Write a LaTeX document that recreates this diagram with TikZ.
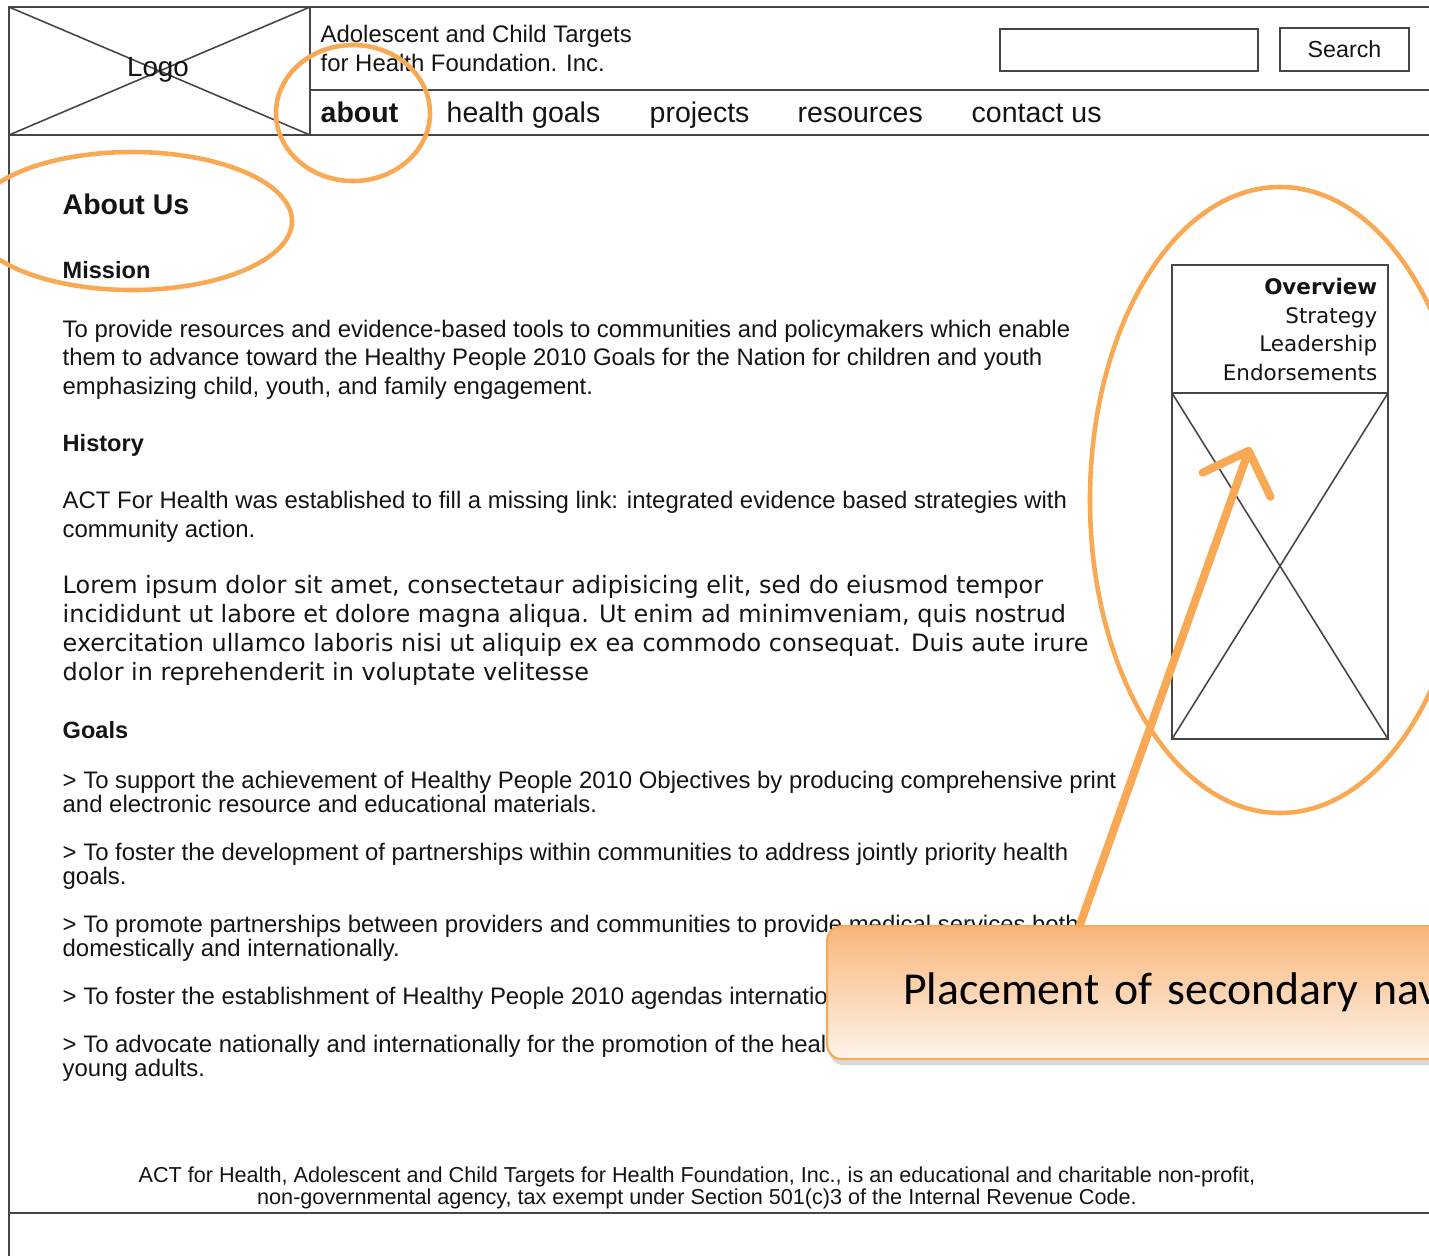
\documentclass[tikz,border=0pt]{standalone}
\usepackage{fontspec}
\setmainfont{Liberation Sans}
\newfontfamily\verdana{DejaVu Sans}
\newfontfamily\calibri{Carlito}
\usepackage{tikz}
\usetikzlibrary{arrows.meta,shadows}
\pgfdeclarelayer{front}
\pgfsetlayers{main,front}

\begin{document}
\begin{tikzpicture}[x=0.01cm,y=-0.01cm]

	\definecolor{wire}{RGB}{70,70,70}
	\definecolor{ink}{RGB}{20,20,20}
	\definecolor{hiorange}{RGB}{249,168,84}
	\definecolor{notetop}{RGB}{249,182,122}
	\definecolor{notebot}{RGB}{254,244,235}

	\useasboundingbox (0,0) rectangle (1429,1256);
	\clip (0,0) rectangle (1429,1256);

	\tikzstyle{frame} = [draw=wire,line width=0.7pt]
	\tikzstyle{cross} = [draw=wire,line width=0.45pt]
	\tikzset{txt/.style = {inner sep=0pt,text=ink,anchor=base west,align=left}}

	% page frame and header
	\draw[frame] (1429,7) -- (9,7) -- (9,1256);
	\draw[frame] (310,7) -- (310,135);
	\draw[frame] (310,90) -- (1429,90);
	\draw[frame] (9,135) -- (1429,135);
	\draw[frame] (9,1213) -- (1429,1213);
	\draw[cross] (9,7) -- (310,135);
	\draw[cross] (9,135) -- (310,7);
	\node[txt,anchor=center,font=\fontsize{7.9}{9}\selectfont] (logo) at (158,70) {Logo};

	\node[txt,font=\fontsize{6.8}{8.2}\selectfont] (org) at (320,71) {Adolescent and Child Targets\\for Health Foundation. Inc.};
	\draw[frame,line width=0.5pt] (1000,29) rectangle (1258,71);
	\node[draw=wire,line width=0.5pt,minimum width=1.29cm,minimum height=0.43cm,inner sep=0pt,
	      font=\fontsize{6.6}{8}\selectfont,text=ink] (search) at (1344.5,49.5) {Search};

	% main navigation
	\tikzset{navitem/.style = {txt,font=\fontsize{8.1}{9}\selectfont}}
	\node[navitem,font=\fontsize{8.1}{9}\selectfont\bfseries] (about) at (320,122) {about};
	\node[navitem] (goals) at (446,122) {health goals};
	\node[navitem] (projects) at (649,122) {projects};
	\node[navitem] (resources) at (797,122) {resources};
	\node[navitem] (contact) at (971,122) {contact us};

	% page content (multi-line nodes sit on their last line)
	\tikzset{head/.style = {txt,font=\fontsize{6.7}{8}\selectfont\bfseries}}
	\tikzset{body/.style = {txt,font=\fontsize{6.8}{8.1}\selectfont}}
	\tikzset{item/.style = {txt,font=\fontsize{6.8}{6.8}\selectfont}}
	\node[txt,font=\fontsize{8.1}{9}\selectfont\bfseries] (aboutus) at (62,214) {About Us};
	\node[head] (mission) at (62,278) {Mission};
	\node[body] (missiontxt) at (62,394) {To provide resources and evidence-based tools to communities and policymakers which enable\\them to advance toward the Healthy People 2010 Goals for the Nation for children and youth\\emphasizing child, youth, and family engagement.};
	\node[head] (history) at (62,451) {History};
	\node[body] (historytxt) at (62,537) {ACT For Health was established to fill a missing link: integrated evidence based strategies with\\community action.};
	\node[txt,font=\verdana\fontsize{6.8}{8.2}\selectfont] (lorem) at (62,680) {Lorem ipsum dolor sit amet, consectetaur adipisicing elit, sed do eiusmod tempor\\incididunt ut labore et dolore magna aliqua. Ut enim ad minimveniam, quis nostrud\\exercitation ullamco laboris nisi ut aliquip ex ea commodo consequat. Duis aute irure\\dolor in reprehenderit in voluptate velitesse};
	\node[head] (goalshead) at (62,738) {Goals};
	\node[item] (goal1) at (62,812) {> To support the achievement of Healthy People 2010 Objectives by producing comprehensive print\\and electronic resource and educational materials.};
	\node[item] (goal2) at (62,884) {> To foster the development of partnerships within communities to address jointly priority health\\goals.};
	\node[item] (goal3) at (62,956) {> To promote partnerships between providers and communities to provide medical services both\\domestically and internationally.};
	\node[item] (goal4) at (62,1004) {> To foster the establishment of Healthy People 2010 agendas internationally.};
	\node[item] (goal5) at (62,1076) {> To advocate nationally and internationally for the promotion of the health\\young adults.};

	\node[txt,anchor=base,align=center,font=\fontsize{6.15}{6}\selectfont] (footer) at (697,1204) {ACT for Health, Adolescent and Child Targets for Health Foundation, Inc., is an educational and charitable non-profit,\\non-governmental agency, tax exempt under Section 501(c)3 of the Internal Revenue Code.};

	% secondary navigation
	\draw[frame,line width=0.5pt] (1172,265) rectangle (1388,739);
	\draw[frame,line width=0.5pt] (1172,393) -- (1388,393);
	\draw[cross] (1172,393) -- (1388,739);
	\draw[cross] (1172,739) -- (1388,393);
	\node[txt,anchor=base east,align=right,font=\verdana\fontsize{6.1}{8.1}\selectfont] (subnav) at (1378,380) {\textbf{Overview}\\Strategy\\Leadership\\Endorsements};

	% annotations
	\tikzstyle{hilite} = [draw=hiorange,line width=1.3pt]
	\draw[hilite] (353,113) ellipse [x radius=77,y radius=68];
	\draw[hilite] (132,221) ellipse [x radius=160,y radius=69];
	\draw[hilite] (1280,500) ellipse [x radius=190,y radius=313];

	\coordinate (navtip) at (1250,447);
	\tikzset{callout/.style = {draw=hiorange,line width=0.6pt,rounded corners=0.15cm,
	      top color=notetop,bottom color=notebot,
	      drop shadow={opacity=0.3,shadow xshift=0.02cm,shadow yshift=-0.06cm},
	      minimum height=1.33cm,text width=5.8cm,inner xsep=0.76cm,align=left,
	      font=\calibri\fontsize{13}{15}\selectfont,text=black}}
	\begin{pgfonlayer}{front}
	\node[callout,anchor=north west] (note) at (826,925) {Placement of secondary nav};
	\end{pgfonlayer}
	\draw[draw=hiorange,line width=2.3pt,line cap=round,
	      -{Straight Barb[round,length=0.36cm,width=0.72cm]}]
	      ([xshift=2.43cm,yshift=-0.3cm]note.north west) -- (navtip);
\end{tikzpicture}
\end{document}
